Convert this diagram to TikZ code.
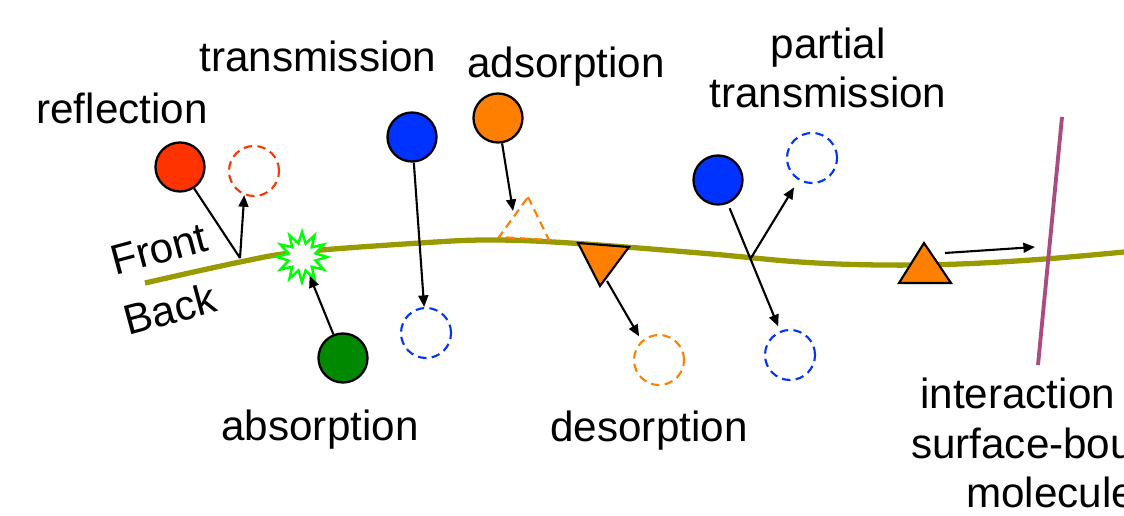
\documentclass[tikz,border=0pt]{standalone}
\usepackage{fontspec}
\setmainfont{Liberation Sans}
\usetikzlibrary{arrows.meta,shapes.geometric}
\definecolor{cred}{RGB}{255,51,0}
\definecolor{cblue}{RGB}{0,51,255}
\definecolor{corange}{RGB}{255,128,0}
\definecolor{cgreen}{RGB}{0,136,0}
\definecolor{cbright}{RGB}{0,255,0}
\definecolor{colive}{RGB}{153,153,0}
\definecolor{cmag}{RGB}{170,76,128}
\begin{document}
\begin{tikzpicture}[x=0.01cm,y=-0.01cm,
  ball/.style={circle,draw=black,line width=0.65pt,minimum size=0.49cm,inner sep=0pt},
  ghost/.style={circle,dash pattern=on 2.4pt off 1.5pt,line width=0.6pt,minimum size=0.5cm,inner sep=0pt},
  arr/.style={-{Triangle[length=3.3pt,width=2.8pt]},line width=0.6pt},
  plain/.style={line width=0.6pt},
  lbl/.style={font=\fontsize{12}{14.2}\selectfont,inner sep=0pt,anchor=base,align=center}]
\clip (0,0) rectangle (1124,516);
% surface
\draw[colive,line width=1.5pt] plot[smooth,tension=0.6] coordinates {(145,283) (240,262) (300,252) (420,243) (490,240) (570,243) (700,253) (800,262) (880,265) (960,264) (1045,259) (1124,252)};
% reflection
\node[ball,fill=cred] (rb) at (180,167) {};
\node[ghost,draw=cred] (rg) at (254,171) {};
\coordinate (rp) at (240,258);
\draw[plain] (rb) -- (rp);
\draw[arr] (rp) -- (rg.248);
% absorption
\node[star,star points=12,star point ratio=1.8,minimum size=0.5cm,inner sep=0pt,draw=cbright,fill=white,line width=0.7pt] (sb) at (302,257) {};
\node[ball,fill=cgreen] (gb) at (343,358) {};
\draw[arr] (gb) -- (sb);
% transmission
\node[ball,fill=cblue] (tb) at (412,137) {};
\node[ghost,draw=cblue] (tg) at (426,333) {};
\draw[arr] (tb) -- (tg);
% adsorption
\node[ball,fill=corange] (ab) at (498,118) {};
\coordinate (at1) at (528,197);
\coordinate (at2) at (549,240);
\coordinate (at3) at (499,237);
\draw[corange,dash pattern=on 2.4pt off 1.5pt,line width=0.6pt] (at1) -- (at2) -- (at3) -- cycle;
\coordinate (ahit) at (513,211);
\draw[arr] (ab) -- (ahit);
% desorption
\coordinate (dt1) at (578,243);
\coordinate (dt2) at (629,247);
\coordinate (dt3) at (600,286);
\draw[fill=corange,line width=0.6pt] (dt1) -- (dt2) -- (dt3) -- cycle;
\node[ghost,draw=corange] (dg) at (659,360) {};
\coordinate (dstart) at (607,281);
\draw[arr,shorten >=1.4pt] (dstart) -- (dg.132);
% partial transmission
\node[ball,fill=cblue] (pb) at (718,180) {};
\node[ghost,draw=cblue] (pu) at (812,158) {};
\node[ghost,draw=cblue] (pd) at (790,355) {};
\draw[arr,shorten <=1.4pt,shorten >=1.4pt] (pb) -- (pd);
\coordinate (px) at (751,258);
\draw[arr,shorten >=2.4pt] (px) -- (pu);
% interaction
\coordinate (ot1) at (924,243);
\coordinate (ot2) at (951,283);
\coordinate (ot3) at (899,283);
\draw[fill=corange,line width=0.6pt] (ot1) -- (ot2) -- (ot3) -- cycle;
\coordinate (ms) at (945,253);
\coordinate (me) at (1035,247);
\draw[arr] (ms) -- (me);
\coordinate (m1) at (1062,117);
\coordinate (m2) at (1038,365);
\draw[cmag,line width=1.1pt] (m1) -- (m2);
% labels
\node[lbl] (l1) at (122,124) {reflection};
\node[lbl] (l2) at (318,72) {transmission};
\node[lbl] (l3) at (566,78) {adsorption};
\node[lbl] (l4) at (828,108) {partial\\transmission};
\node[lbl] (l5) at (320,441) {absorption};
\node[lbl] (l6) at (649,442) {desorption};
\node[lbl,anchor=center,rotate=15] (l7) at (159,249) {Front};
\node[lbl,anchor=center,rotate=15] (l8) at (170,309) {Back};
\node[lbl] (l9) at (1061,508) {interaction with\\\hspace*{-0.3cm}surface-bound\\molecules};
\end{tikzpicture}
\end{document}
